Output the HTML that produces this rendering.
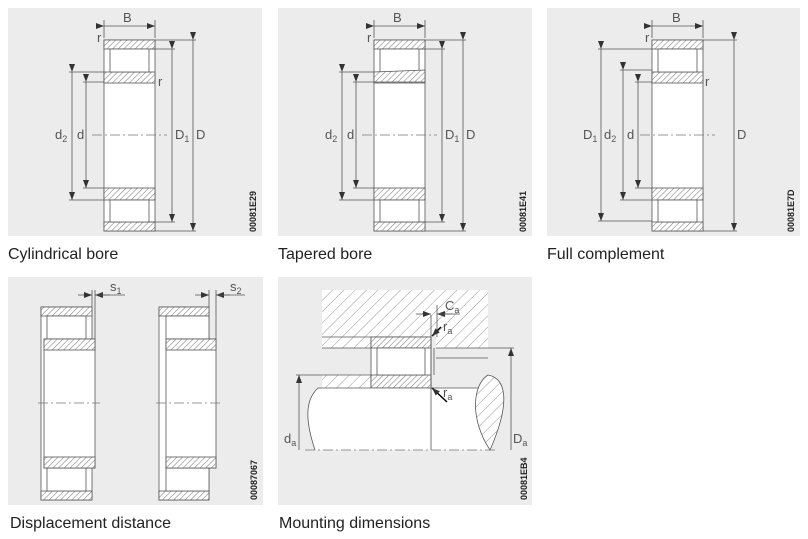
<!DOCTYPE html>
<html><head><meta charset="utf-8"><style>
body{margin:0;background:#fff;}
svg{display:block;font-family:"Liberation Sans",sans-serif;}
.cap{font-size:16px;fill:#222;}
.lb{font-size:13px;fill:#555;}
.code{font-size:9px;fill:#222;font-weight:bold;}
</style></head><body>
<svg width="808" height="539" viewBox="0 0 808 539">
<defs>
<pattern id="h" width="4" height="4" patternUnits="userSpaceOnUse" patternTransform="rotate(45)">
<rect width="4" height="4" fill="#fff"/><line x1="0" y1="0" x2="0" y2="4" stroke="#888" stroke-width="1.2"/></pattern>
<pattern id="hb" width="8" height="8" patternUnits="userSpaceOnUse" patternTransform="rotate(45)">
<rect width="8" height="8" fill="#fff"/><line x1="0" y1="0" x2="0" y2="8" stroke="#999" stroke-width="1"/></pattern>
<marker id="a" markerWidth="8" markerHeight="6" refX="8" refY="3" orient="auto" markerUnits="userSpaceOnUse"><path d="M0,0L8,3L0,6z" fill="#333"/></marker>
<g id="brg">
<rect x="0" y="0" width="51" height="191" fill="#fff" stroke="#555"/>
<rect x="0" y="0" width="51" height="9" fill="url(#h)" stroke="#555"/>
<rect x="0" y="182" width="51" height="9" fill="url(#h)" stroke="#555"/>
<rect x="0" y="32" width="51" height="11" fill="url(#h)" stroke="#555"/>
<rect x="0" y="148" width="51" height="12" fill="url(#h)" stroke="#555"/>
<rect x="6" y="9" width="39" height="23" fill="#fff" stroke="#555"/>
<rect x="6" y="160" width="39" height="22" fill="#fff" stroke="#555"/>
<line x1="-12" y1="95" x2="63" y2="95" stroke="#777" stroke-dasharray="10,3,2,3"/>
</g>
</defs>
<rect x="8" y="8" width="254" height="228" fill="#ececec"/>
<rect x="278" y="8" width="254" height="228" fill="#ececec"/>
<rect x="547" y="8" width="253" height="228" fill="#ececec"/>
<rect x="8" y="277" width="255" height="228" fill="#ececec"/>
<rect x="278" y="277" width="254" height="228" fill="#ececec"/>

<!-- panel 1 -->
<g stroke="#555" fill="none" stroke-width="0.8">
<use href="#brg" x="104" y="40"/>
<line x1="104" y1="20" x2="104" y2="38"/><line x1="155" y1="20" x2="155" y2="38"/>
<line x1="104" y1="26" x2="155" y2="26" marker-start="url(#a)" marker-end="url(#a)"/>
<line x1="155" y1="40" x2="196" y2="40"/><line x1="155" y1="231" x2="196" y2="231"/>
<line x1="193" y1="40" x2="193" y2="231" marker-start="url(#a)" marker-end="url(#a)"/>
<line x1="150" y1="49" x2="175" y2="49"/><line x1="150" y1="222" x2="175" y2="222"/>
<line x1="172" y1="49" x2="172" y2="222" marker-start="url(#a)" marker-end="url(#a)"/>
<line x1="69" y1="72" x2="104" y2="72"/><line x1="69" y1="200" x2="104" y2="200"/>
<line x1="72" y1="72" x2="72" y2="200" marker-start="url(#a)" marker-end="url(#a)"/>
<line x1="83" y1="82" x2="104" y2="82"/><line x1="83" y1="188" x2="104" y2="188"/>
<line x1="86" y1="82" x2="86" y2="188" marker-start="url(#a)" marker-end="url(#a)"/>
</g>
<text class="lb" x="123" y="22">B</text><text class="lb" x="97" y="42">r</text><text class="lb" x="158" y="86">r</text>
<text class="lb" x="55" y="139">d<tspan font-size="9" dy="3">2</tspan></text><text class="lb" x="77" y="139">d</text>
<text class="lb" x="175" y="139">D<tspan font-size="9" dy="3">1</tspan></text><text class="lb" x="196" y="139">D</text>
<text class="code" transform="translate(256,232) rotate(-90)">00081E29</text>
<text class="cap" x="8" y="259">Cylindrical bore</text>

<!-- panel 2 -->
<g transform="translate(270,0)">
<g stroke="#555" fill="none" stroke-width="0.8">
<use href="#brg" x="104" y="40"/>
<path d="M104,72L155,70L155,82L104,82z" fill="url(#h)"/>
<line x1="104" y1="20" x2="104" y2="38"/><line x1="155" y1="20" x2="155" y2="38"/>
<line x1="104" y1="26" x2="155" y2="26" marker-start="url(#a)" marker-end="url(#a)"/>
<line x1="155" y1="40" x2="196" y2="40"/><line x1="155" y1="231" x2="196" y2="231"/>
<line x1="193" y1="40" x2="193" y2="231" marker-start="url(#a)" marker-end="url(#a)"/>
<line x1="150" y1="49" x2="175" y2="49"/><line x1="150" y1="222" x2="175" y2="222"/>
<line x1="172" y1="49" x2="172" y2="222" marker-start="url(#a)" marker-end="url(#a)"/>
<line x1="69" y1="72" x2="104" y2="72"/><line x1="69" y1="200" x2="104" y2="200"/>
<line x1="72" y1="72" x2="72" y2="200" marker-start="url(#a)" marker-end="url(#a)"/>
<line x1="83" y1="82" x2="104" y2="82"/><line x1="83" y1="188" x2="104" y2="188"/>
<line x1="86" y1="82" x2="86" y2="188" marker-start="url(#a)" marker-end="url(#a)"/>
</g>
<text class="lb" x="123" y="22">B</text><text class="lb" x="97" y="42">r</text>
<text class="lb" x="55" y="139">d<tspan font-size="9" dy="3">2</tspan></text><text class="lb" x="77" y="139">d</text>
<text class="lb" x="175" y="139">D<tspan font-size="9" dy="3">1</tspan></text><text class="lb" x="196" y="139">D</text>
<text class="code" transform="translate(256,232) rotate(-90)">00081E41</text>
</g>
<text class="cap" x="278" y="259">Tapered bore</text>

<!-- panel 3 -->
<g stroke="#555" fill="none" stroke-width="0.8">
<use href="#brg" x="652" y="40"/>
<line x1="652" y1="20" x2="652" y2="38"/><line x1="703" y1="20" x2="703" y2="38"/>
<line x1="652" y1="26" x2="703" y2="26" marker-start="url(#a)" marker-end="url(#a)"/>
<line x1="703" y1="40" x2="737" y2="40"/><line x1="703" y1="231" x2="737" y2="231"/>
<line x1="734" y1="40" x2="734" y2="231" marker-start="url(#a)" marker-end="url(#a)"/>
<line x1="598" y1="49" x2="652" y2="49"/><line x1="598" y1="221" x2="652" y2="221"/>
<line x1="601" y1="49" x2="601" y2="221" marker-start="url(#a)" marker-end="url(#a)"/>
<line x1="620" y1="70" x2="652" y2="70"/><line x1="620" y1="200" x2="652" y2="200"/>
<line x1="623" y1="70" x2="623" y2="200" marker-start="url(#a)" marker-end="url(#a)"/>
<line x1="635" y1="82" x2="652" y2="82"/><line x1="635" y1="188" x2="652" y2="188"/>
<line x1="638" y1="82" x2="638" y2="188" marker-start="url(#a)" marker-end="url(#a)"/>
</g>
<text class="lb" x="672" y="22">B</text><text class="lb" x="645" y="42">r</text><text class="lb" x="705" y="86">r</text>
<text class="lb" x="583" y="139">D<tspan font-size="9" dy="3">1</tspan></text>
<text class="lb" x="604" y="139">d<tspan font-size="9" dy="3">2</tspan></text><text class="lb" x="627" y="139">d</text>
<text class="lb" x="737" y="139">D</text>
<text class="code" transform="translate(794,232) rotate(-90)">00081E7D</text>
<text class="cap" x="547" y="259">Full complement</text>

<!-- panel 4 -->
<g stroke="#555" fill="none" stroke-width="0.8">
<rect x="41" y="307" width="51" height="193" fill="#fff"/>
<rect x="41" y="307" width="51" height="9" fill="url(#h)"/>
<rect x="41" y="491" width="51" height="9" fill="url(#h)"/>
<rect x="47" y="316" width="39" height="23" fill="#fff"/>
<rect x="47" y="468" width="39" height="23" fill="#fff"/>
<rect x="44" y="339" width="51" height="129" fill="#fff"/>
<rect x="44" y="339" width="51" height="11" fill="url(#h)"/>
<rect x="44" y="457" width="51" height="11" fill="url(#h)"/>
<line x1="38" y1="403" x2="100" y2="403" stroke="#777" stroke-dasharray="10,3,2,3"/>
<line x1="92" y1="290" x2="92" y2="307"/><line x1="95" y1="290" x2="95" y2="339"/>
<line x1="78" y1="295" x2="92" y2="295" marker-end="url(#a)"/><line x1="110" y1="295" x2="95" y2="295" marker-end="url(#a)"/>
<line x1="95" y1="295" x2="125" y2="295"/>
<rect x="159" y="307" width="50" height="193" fill="#fff"/>
<rect x="159" y="307" width="50" height="9" fill="url(#h)"/>
<rect x="159" y="491" width="50" height="9" fill="url(#h)"/>
<rect x="166" y="316" width="43" height="23" fill="#fff"/>
<rect x="166" y="468" width="43" height="23" fill="#fff"/>
<rect x="166" y="339" width="50" height="129" fill="#fff"/>
<rect x="166" y="339" width="50" height="11" fill="url(#h)"/>
<rect x="166" y="457" width="50" height="11" fill="url(#h)"/>
<line x1="156" y1="403" x2="220" y2="403" stroke="#777" stroke-dasharray="10,3,2,3"/>
<line x1="209" y1="290" x2="209" y2="307"/><line x1="216" y1="290" x2="216" y2="339"/>
<line x1="195" y1="295" x2="209" y2="295" marker-end="url(#a)"/><line x1="230" y1="295" x2="216" y2="295" marker-end="url(#a)"/>
<line x1="216" y1="295" x2="245" y2="295"/>
</g>
<text class="lb" x="110" y="291">s<tspan font-size="9" dy="3">1</tspan></text>
<text class="lb" x="230" y="291">s<tspan font-size="9" dy="3">2</tspan></text>
<text class="code" transform="translate(257,500) rotate(-90)">00087067</text>
<text class="cap" x="10" y="528">Displacement distance</text>

<!-- panel 5 -->
<g stroke="#555" fill="none" stroke-width="0.8">
<path d="M322,290H488V348H436V337H371V348H322z" fill="url(#hb)" stroke="none"/>
<line x1="322" y1="337" x2="371" y2="337"/><line x1="322" y1="348" x2="371" y2="348"/>
<line x1="436" y1="348" x2="488" y2="348"/><line x1="436" y1="358" x2="488" y2="358"/>
<rect x="322" y="375" width="49" height="13" fill="url(#hb)" stroke="none"/>
<line x1="322" y1="375" x2="371" y2="375"/>
<rect x="371" y="337" width="60" height="51" fill="#fff"/>
<rect x="371" y="337" width="60" height="11" fill="url(#h)"/>
<rect x="371" y="375" width="60" height="13" fill="url(#h)"/>
<rect x="377" y="348" width="48" height="27" fill="#fff"/>
<line x1="434" y1="348" x2="434" y2="375"/>
<path d="M490,388H318C305,400 305,420 315,450H490" fill="#fff" stroke="none"/>
<path d="M480,388H318C305,400 305,420 315,450"/>
<path d="M488,375C505,378 512,400 490,450C470,420 472,385 488,375z" fill="url(#hb)"/>
<line x1="431" y1="315" x2="431" y2="450"/>
<line x1="296" y1="375" x2="322" y2="375"/>
<line x1="299" y1="450" x2="299" y2="375" marker-end="url(#a)"/>
<line x1="488" y1="348" x2="514" y2="348"/>
<line x1="511" y1="450" x2="511" y2="348" marker-end="url(#a)"/>
<line x1="305" y1="450" x2="495" y2="450" stroke="#777" stroke-dasharray="10,3,2,3"/>
<line x1="416" y1="314" x2="431" y2="314" marker-end="url(#a)"/><line x1="452" y1="314" x2="437" y2="314" marker-end="url(#a)"/>
<line x1="437" y1="305" x2="437" y2="337"/><line x1="437" y1="314" x2="460" y2="314"/>
<line x1="441" y1="327" x2="432" y2="336" stroke="#000" stroke-width="1.5" marker-end="url(#a)"/>
<line x1="447" y1="402" x2="432" y2="388" stroke="#000" stroke-width="1.5" marker-end="url(#a)"/>
</g>
<text class="lb" x="445" y="310">C<tspan font-size="9" dy="3">a</tspan></text>
<text class="lb" x="443" y="331">r<tspan font-size="9" dy="3">a</tspan></text>
<text class="lb" x="443" y="397">r<tspan font-size="9" dy="3">a</tspan></text>
<text class="lb" x="284" y="443">d<tspan font-size="9" dy="3">a</tspan></text>
<text class="lb" x="513" y="443">D<tspan font-size="9" dy="3">a</tspan></text>
<text class="code" transform="translate(527,500) rotate(-90)">00081EB4</text>
<text class="cap" x="279" y="528">Mounting dimensions</text>
</svg>
</body></html>
